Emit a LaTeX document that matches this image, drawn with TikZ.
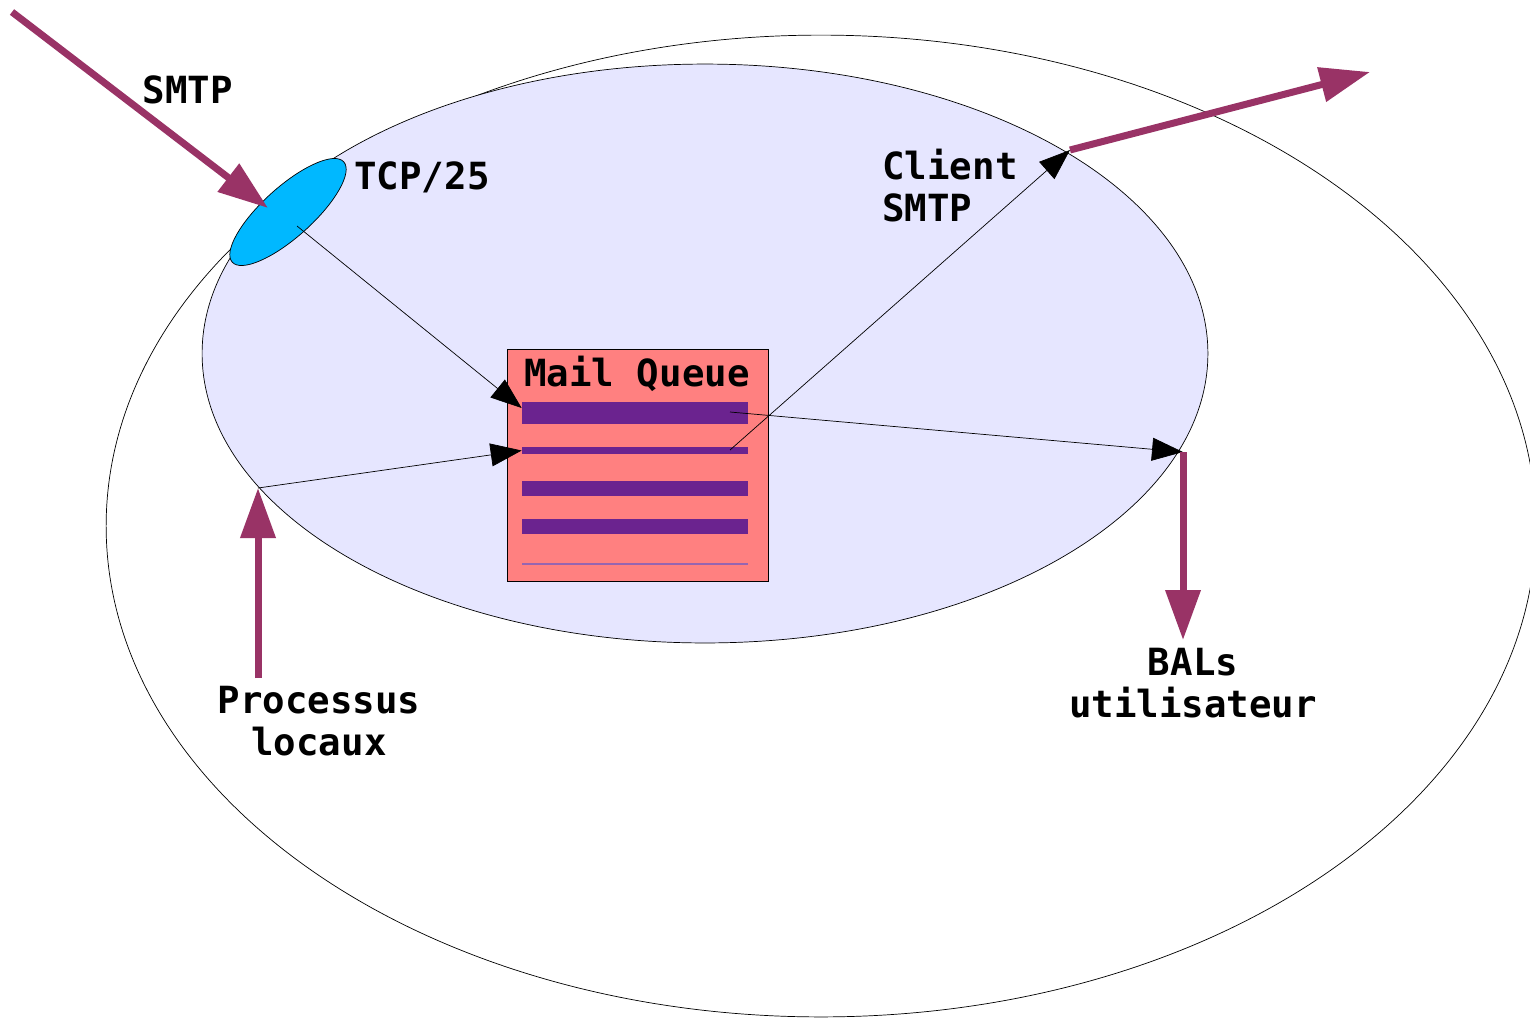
\documentclass[tikz,border=0pt]{standalone}
\usepackage{fontspec}
\setmainfont{DejaVu Sans Mono}
\usetikzlibrary{arrows.meta,shapes.geometric}
\definecolor{flowred}{HTML}{993366}
\definecolor{hostfill}{HTML}{E6E6FF}
\definecolor{portblue}{HTML}{00B8FF}
\definecolor{queuefill}{HTML}{FF8080}
\definecolor{queuebar}{HTML}{6B238F}
\begin{document}
\begin{tikzpicture}[
    x=0.02cm, y=-0.02cm,
    txt/.style={font=\fontsize{21.3}{24}\selectfont\bfseries, inner sep=0pt},
    zone/.style={ellipse, draw, thin, inner sep=0pt},
    bar/.style={rectangle, fill=queuebar, draw=none, inner sep=0pt, minimum width=4.52cm},
    link/.style={-{Triangle[length=0.62cm,width=0.46cm]}, thin, black},
    flow/.style={-{Triangle[length=1cm,width=0.68cm]}, line width=0.14cm, flowred}
]
  \useasboundingbox (0,0) rectangle (1530,1018);
  \clip (0,0) rectangle (1530,1018);

  % Ellipses: system, MTA, port
  \node[zone, fill=white, minimum width=28.6cm, minimum height=19.64cm] (system) at (821,526) {};
  \node[zone, fill=hostfill, minimum width=20.12cm, minimum height=11.58cm] (mta) at (705,353.5) {};
  \node[zone, fill=portblue, minimum width=3cm, minimum height=1cm, rotate=42] (port) at (288,212) {};

  % Mail queue box and its entries
  \node[rectangle, draw, fill=queuefill, inner sep=0pt, minimum width=5.22cm, minimum height=4.64cm] (queue) at (637.5,465) {};
  \node[txt, anchor=base] (qtitle) at (637,386) {Mail Queue};
  \node[bar, minimum height=0.44cm] (bar1) at (635,413) {};
  \node[bar, minimum height=0.14cm] (bar2) at (635,450.5) {};
  \node[bar, minimum height=0.3cm]  (bar3) at (635,488.5) {};
  \node[bar, minimum height=0.3cm]  (bar4) at (635,526.5) {};
  \node[bar, minimum height=0.04cm, fill=queuebar!70] (bar5) at (635,564) {};

  % Labels
  \node[txt, anchor=base] (smtp) at (188,103) {SMTP};
  \node[txt, anchor=base west] (tcp) at (354,189) {TCP/25};
  \node[txt, anchor=north west, align=left] (client) at (882,149) {Client\\SMTP};
  \node[txt, anchor=north, align=center] (bals) at (1193,648) {BALs\\utilisateur};
  \node[txt, anchor=north, align=center] (procs) at (319,686) {Processus\\locaux};

  % End points on the borders
  \coordinate (smtpin) at (12,12);
  \coordinate (portin) at (268,208);
  \coordinate (portout) at (297,226);
  \coordinate (localin) at (258,488);
  \coordinate (clientout) at (1070,150);
  \coordinate (remote) at (1370,72);
  \coordinate (balin) at (1183,452);
  \coordinate (q1out) at (730,412);
  \coordinate (q2out) at (730,450);

  % Internal links
  \draw[link] (portout) -- ([yshift=0.1cm]bar1.west);
  \draw[link] (localin) -- (bar2.west);
  \draw[link] (q2out) -- (clientout);
  \draw[link] (q1out) -- (balin);

  % External flows
  \draw[flow] (smtpin) -- (portin);
  \draw[flow] (clientout) -- (remote);
  \draw[flow] (balin) -- ([yshift=0.16cm]balin |- bals.north);
  \draw[flow] ([yshift=0.16cm]localin |- procs.north) -- (localin);
\end{tikzpicture}
\end{document}
